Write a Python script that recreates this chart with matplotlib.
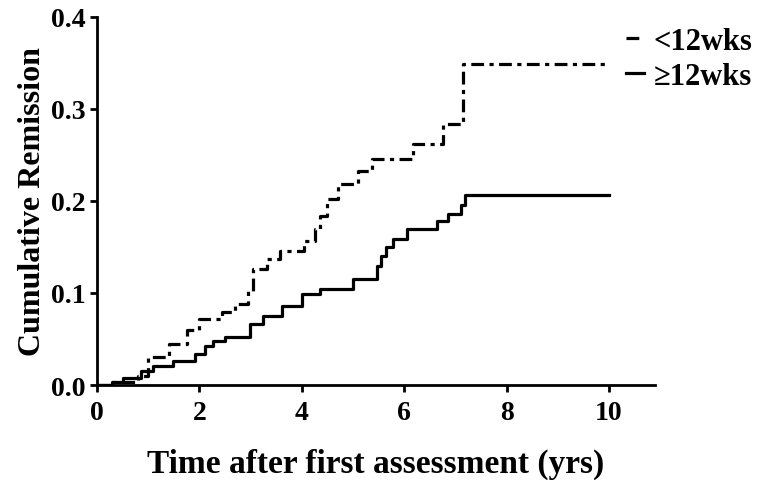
import matplotlib
matplotlib.use("Agg")
import matplotlib.pyplot as plt

# cumulative remission step curves
t_short = [0, 0.3, 0.8, 1.0, 1.4, 1.75, 2.0, 2.45, 2.7, 2.95, 3.05, 3.32, 3.57,
           4.04, 4.26, 4.35, 4.5, 4.7, 5.1, 5.37, 6.17, 6.76, 7.15, 10]
v_short = [0, 0.003, 0.01, 0.03, 0.045, 0.06, 0.072, 0.079, 0.088, 0.102, 0.126,
           0.137, 0.146, 0.157, 0.17, 0.184, 0.202, 0.218, 0.233, 0.246, 0.262,
           0.284, 0.349, 0.349]

t_long = [0, 0.3, 0.5, 0.85, 1.1, 1.48, 1.91, 2.1, 2.27, 2.5, 2.99, 3.24, 3.62,
          4.0, 4.36, 5.0, 5.47, 5.55, 5.65, 5.78, 6.05, 6.64, 6.86, 7.1, 7.19, 10]
v_long = [0, 0.003, 0.008, 0.015, 0.021, 0.026, 0.034, 0.042, 0.048, 0.052, 0.066,
          0.075, 0.086, 0.099, 0.104, 0.115, 0.129, 0.14, 0.15, 0.159, 0.17, 0.178,
          0.186, 0.196, 0.207, 0.207]

labels = ["<12wks", "\u226512wks"]
xticks = [0, 2, 4, 6, 8, 10]
yticks = [0.0, 0.1, 0.2, 0.3, 0.4]

plt.rcParams["font.family"] = ["Liberation Serif", "DejaVu Serif"]
plt.rcParams["font.weight"] = "bold"

fig = plt.figure(figsize=(7.68, 4.81), dpi=100)
ax = fig.add_axes([0.1263, 0.1975, 0.7267, 0.7651])

ax.step(t_short, v_short, where="post", color="black", lw=2.3,
        ls=(0, (4, 1.7, 1.3, 1.7)), label=labels[0])
ax.step(t_long, v_long, where="post", color="black", lw=2.3, label=labels[1])

ax.set_xlim(0, 10.9)
ax.set_ylim(0, 0.4)
ax.set_xticks(xticks)
ax.set_yticks(yticks)
ax.set_yticklabels([f"{v:.1f}" for v in yticks])
for s in ["top", "right"]:
    ax.spines[s].set_visible(False)
for s in ["left", "bottom"]:
    ax.spines[s].set_linewidth(2)
ax.tick_params(direction="out", length=5, width=2, labelsize=20, pad=3)
ax.tick_params(axis="x", pad=6)

ax.set_xlabel("Time after first assessment (yrs)", fontsize=24, fontweight="bold",
              labelpad=16)
ax.set_ylabel("Cumulative Remission", fontsize=23, fontweight="bold", labelpad=3)

ax.legend(loc="upper left", bbox_to_anchor=(626 / 768, 1 - 28 / 481),
          bbox_transform=fig.transFigure, frameon=False,
          fontsize=22, handlelength=0.6, handletextpad=0.3, labelspacing=0.2,
          borderaxespad=0.0, borderpad=0.0)

fig.savefig("out.png", dpi=100)
